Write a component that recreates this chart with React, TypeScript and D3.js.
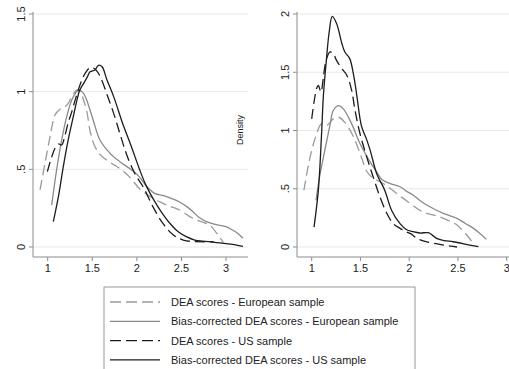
import React from "react";
import * as d3 from "d3";

type P = [number, number];

const xTicks = [1, 1.5, 2, 2.5, 3];
const xTickLabels = ["1", "1.5", "2", "2.5", "3"];
const leftYTicks = [0, 0.5, 1, 1.5];
const leftYTickLabels = ["0", ".5", "1", "1.5"];
const rightYTicks = [0, 0.5, 1, 1.5, 2];
const rightYTickLabels = ["0", ".5", "1", "1.5", "2"];

const seriesNames = [
  "DEA scores - European sample",
  "Bias-corrected DEA scores - European sample",
  "DEA scores - US sample",
  "Bias-corrected DEA scores - US sample",
];

// Left panel (European-style scale 0..1.5)
const leftDeaEu: P[] = [[0.914,0.367],[0.97,0.54],[1.03,0.72],[1.082,0.85],[1.138,0.887],[1.19,0.9],[1.23,0.925],[1.27,0.968],[1.325,1.01],[1.36,1.005],[1.4,0.95],[1.44,0.87],[1.474,0.75],[1.52,0.66],[1.58,0.6],[1.66,0.56],[1.74,0.53],[1.81,0.505],[1.92,0.45],[2.03,0.375],[2.15,0.325],[2.26,0.29],[2.37,0.262],[2.48,0.238],[2.58,0.2],[2.67,0.174],[2.76,0.155],[2.82,0.14],[2.91,0.077],[2.97,0.03]];
const leftBcEu: P[] = [[1.045,0.27],[1.1,0.496],[1.157,0.689],[1.213,0.839],[1.27,0.946],[1.325,1.0],[1.36,1.01],[1.4,0.99],[1.437,0.946],[1.47,0.89],[1.51,0.818],[1.586,0.689],[1.7,0.603],[1.81,0.549],[1.92,0.505],[2.03,0.45],[2.11,0.39],[2.2,0.345],[2.3,0.33],[2.4,0.31],[2.48,0.29],[2.56,0.26],[2.63,0.227],[2.7,0.19],[2.78,0.163],[2.88,0.145],[3.0,0.131],[3.07,0.11],[3.13,0.088],[3.19,0.056]];
const leftDeaUs: P[] = [[0.996,0.485],[1.045,0.58],[1.082,0.636],[1.12,0.663],[1.157,0.657],[1.19,0.71],[1.23,0.8],[1.27,0.87],[1.31,0.95],[1.343,1.01],[1.38,1.07],[1.42,1.118],[1.475,1.154],[1.53,1.146],[1.59,1.096],[1.66,0.99],[1.74,0.86],[1.81,0.73],[1.87,0.62],[1.93,0.53],[2.0,0.45],[2.07,0.388],[2.18,0.26],[2.29,0.153],[2.41,0.077],[2.52,0.045],[2.67,0.034],[2.86,0.034]];
const leftBcUs: P[] = [[1.063,0.163],[1.12,0.324],[1.175,0.517],[1.23,0.689],[1.287,0.839],[1.33,0.95],[1.36,1.01],[1.4,1.05],[1.44,1.09],[1.475,1.128],[1.53,1.14],[1.57,1.17],[1.61,1.16],[1.665,1.075],[1.74,0.968],[1.85,0.78],[1.93,0.66],[2.03,0.5],[2.1,0.4],[2.18,0.313],[2.27,0.23],[2.37,0.153],[2.46,0.1],[2.56,0.065],[2.65,0.045],[2.74,0.038],[2.85,0.032],[2.93,0.027],[3.05,0.018],[3.19,0.004]];

// Right panel (scale 0..2)
const rightDeaEu: P[] = [[0.92,0.486],[0.983,0.77],[1.05,0.97],[1.1,1.057],[1.154,1.043],[1.22,1.1],[1.274,1.114],[1.34,1.07],[1.43,0.943],[1.51,0.77],[1.564,0.65],[1.63,0.59],[1.7,0.56],[1.78,0.52],[1.87,0.46],[2.01,0.374],[2.1,0.32],[2.18,0.289],[2.27,0.27],[2.35,0.246],[2.42,0.22],[2.49,0.189],[2.59,0.103],[2.67,0.017]];
const rightBcEu: P[] = [[1.044,0.4],[1.08,0.6],[1.12,0.77],[1.19,1.057],[1.22,1.17],[1.274,1.214],[1.325,1.186],[1.41,1.057],[1.496,0.886],[1.58,0.757],[1.667,0.643],[1.72,0.58],[1.8,0.546],[1.906,0.517],[1.97,0.48],[2.04,0.446],[2.11,0.4],[2.18,0.36],[2.27,0.32],[2.35,0.289],[2.49,0.246],[2.58,0.2],[2.66,0.16],[2.72,0.12],[2.79,0.066]];
const rightDeaUs: P[] = [[1.0,1.1],[1.05,1.36],[1.068,1.388],[1.095,1.33],[1.12,1.46],[1.147,1.6],[1.188,1.674],[1.22,1.66],[1.256,1.6],[1.31,1.53],[1.36,1.474],[1.41,1.345],[1.444,1.174],[1.495,0.974],[1.564,0.774],[1.63,0.603],[1.7,0.43],[1.77,0.29],[1.837,0.2],[1.906,0.16],[1.97,0.13],[2.01,0.117],[2.08,0.074],[2.18,0.045],[2.35,0.017],[2.49,0.0]];
const rightBcUs: P[] = [[1.024,0.171],[1.068,0.486],[1.1,0.95],[1.12,1.3],[1.15,1.6],[1.18,1.85],[1.211,1.98],[1.256,1.917],[1.31,1.745],[1.34,1.674],[1.39,1.617],[1.427,1.488],[1.46,1.317],[1.51,1.04],[1.56,0.93],[1.6,0.829],[1.667,0.629],[1.75,0.486],[1.82,0.314],[1.906,0.2],[1.97,0.15],[2.04,0.131],[2.11,0.12],[2.196,0.123],[2.24,0.1],[2.28,0.074],[2.36,0.055],[2.45,0.045],[2.62,0.017],[2.71,0.003]];

const styles = [
  { color: "#9a9a9a", dash: "10,5" },
  { color: "#8a8a8a", dash: "" },
  { color: "#1c1c1c", dash: "10,5" },
  { color: "#1c1c1c", dash: "" },
];

const FONT = "Arial, 'Liberation Sans', sans-serif";

function Panel({
  x0, x1, xRange, yTop, yZero, axisY, yAxisX, yTicks, yTickLabels, yMax, series, clipRight,
}: any) {
  const xs = d3.scaleLinear().domain([1, 3]).range(xRange);
  const ys = d3.scaleLinear().domain([0, yMax]).range([yZero, yTop]);
  const line = d3.line<P>().x((d) => xs(d[0])).y((d) => ys(d[1])).curve(d3.curveCatmullRom.alpha(0.5));
  return (
    <g>
      {yTicks.map((t: number, i: number) => (
        <g key={"g" + i}>
          <line x1={yAxisX} x2={clipRight} y1={ys(t)} y2={ys(t)} stroke="#e3ebeb" strokeWidth={1} />
          <line x1={yAxisX - 4} x2={yAxisX} y1={ys(t)} y2={ys(t)} stroke="#8c8c8c" strokeWidth={1} />
          <text
            transform={`translate(${yAxisX - 8},${ys(t)}) rotate(-90)`}
            textAnchor="middle"
            fontSize={11}
            fontFamily={FONT}
            fill="#222"
          >
            {yTickLabels[i]}
          </text>
        </g>
      ))}
      <line x1={yAxisX} x2={yAxisX} y1={yTop - 2} y2={axisY} stroke="#8c8c8c" strokeWidth={1} />
      <line x1={x0} x2={x1} y1={axisY} y2={axisY} stroke="#8c8c8c" strokeWidth={1} />
      {xTicks.map((t, i) => (
        <g key={"x" + i}>
          <line x1={xs(t)} x2={xs(t)} y1={axisY} y2={axisY + 4} stroke="#8c8c8c" strokeWidth={1} />
          <text x={xs(t)} y={axisY + 15} textAnchor="middle" fontSize={11} fontFamily={FONT} fill="#222">
            {xTickLabels[i]}
          </text>
        </g>
      ))}
      {series.map((s: P[], i: number) => (
        <path
          key={"s" + i}
          d={line(s) || ""}
          fill="none"
          stroke={styles[i].color}
          strokeWidth={1.3}
          strokeDasharray={styles[i].dash || undefined}
        />
      ))}
    </g>
  );
}

export default function App() {
  return (
    <svg
      width={509}
      height={369}
      style={{ position: "absolute", left: 0, top: 0, background: "#fff" }}
    >
      <rect x={0} y={0} width={509} height={369} fill="#fff" />
      <Panel
        x0={33}
        x1={248}
        xRange={[47.7, 226]}
        yTop={14}
        yZero={247}
        axisY={257}
        yAxisX={33}
        yTicks={leftYTicks}
        yTickLabels={leftYTickLabels}
        yMax={1.5}
        series={[leftDeaEu, leftBcEu, leftDeaUs, leftBcUs]}
        clipRight={248}
      />
      <Panel
        x0={297}
        x1={509}
        xRange={[311.7, 506.7]}
        yTop={14}
        yZero={247}
        axisY={257}
        yAxisX={297}
        yTicks={rightYTicks}
        yTickLabels={rightYTickLabels}
        yMax={2}
        series={[rightDeaEu, rightBcEu, rightDeaUs, rightBcUs]}
        clipRight={509}
      />
      <text
        transform="translate(243,130) rotate(-90)"
        textAnchor="middle"
        fontSize={9}
        fontFamily={FONT}
        fill="#222"
      >
        Density
      </text>
      <rect x={104} y={287} width={311} height={90} fill="none" stroke="#9a9a9a" strokeWidth={1} />
      {seriesNames.map((name, i) => {
        const y = 302 + i * 19.3;
        return (
          <g key={"l" + i}>
            <line x1={110} x2={160} y1={y} y2={y} stroke={styles[i].color} strokeWidth={1.3} strokeDasharray={styles[i].dash ? "11,5" : undefined} />
            <text x={171} y={y + 4} fontSize={11} fontFamily={FONT} fill="#222">
              {name}
            </text>
          </g>
        );
      })}
    </svg>
  );
}
